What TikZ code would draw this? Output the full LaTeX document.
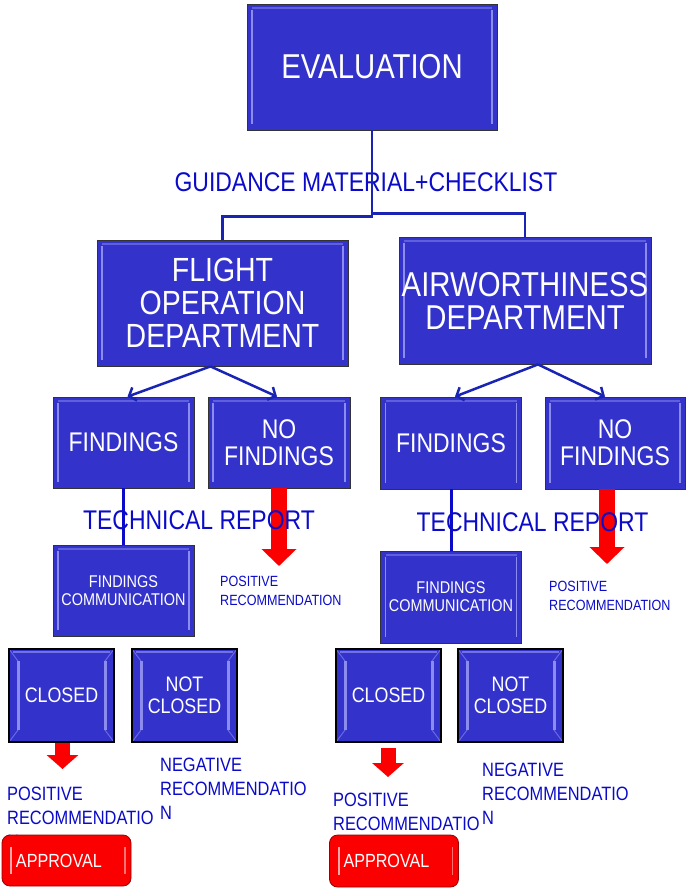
\documentclass[tikz,border=0pt]{standalone}
\usepackage{fontspec}
\setmainfont[FakeStretch=0.85]{Liberation Sans}
\usetikzlibrary{positioning,arrows.meta}
\definecolor{boxblue}{RGB}{51,51,204}
\definecolor{bevelblue}{RGB}{140,140,238}
\definecolor{labelblue}{RGB}{10,10,200}
\definecolor{linkblue}{RGB}{25,35,180}
\definecolor{btnred}{RGB}{250,0,0}
\newcommand{\pxfont}[2]{\fontsize{#1pt}{#2pt}\selectfont}

\begin{document}
\begin{tikzpicture}[x=1pt, y=-1pt]
    % Define styles
    \tikzstyle{unit} = [rectangle, draw=black!80, line width=0.8pt, fill=boxblue, text=white, align=center, inner sep=0pt, path picture={
        \path (path picture bounding box.north west) coordinate (pnw) (path picture bounding box.south west) coordinate (psw)
              (path picture bounding box.north east) coordinate (pne) (path picture bounding box.south east) coordinate (pse);
        \draw [bevelblue, line width=1.8pt] ([xshift=5pt,yshift=-6pt]pnw) -- ([xshift=5pt,yshift=6pt]psw)
              ([xshift=-5pt,yshift=-6pt]pne) -- ([xshift=-5pt,yshift=6pt]pse);
        \draw [bevelblue!50!boxblue, line width=1.2pt] ([xshift=5pt,yshift=-4pt]pnw) -- ([xshift=-5pt,yshift=-4pt]pne);}]
    \tikzstyle{button} = [rectangle, draw=black, line width=1.6pt, fill=boxblue, text=white, align=center, inner sep=0pt, path picture={
        \path (path picture bounding box.north west) coordinate (pnw) (path picture bounding box.south west) coordinate (psw)
              (path picture bounding box.north east) coordinate (pne) (path picture bounding box.south east) coordinate (pse);
        \draw [bevelblue!60!boxblue, line width=1pt] (pnw) -- ([xshift=9pt,yshift=-12pt]pnw) (psw) -- ([xshift=9pt,yshift=12pt]psw)
              (pne) -- ([xshift=-9pt,yshift=-12pt]pne) (pse) -- ([xshift=-9pt,yshift=12pt]pse);
        \draw [bevelblue, line width=3pt] ([xshift=9pt,yshift=-12pt]pnw) -- ([xshift=9pt,yshift=12pt]psw)
              ([xshift=-9pt,yshift=-12pt]pne) -- ([xshift=-9pt,yshift=12pt]pse);
        \draw [bevelblue!70!boxblue, line width=2pt] ([xshift=4pt,yshift=-3pt]pnw) -- ([xshift=-4pt,yshift=-3pt]pne);}]
    \tikzstyle{approve} = [rectangle, rounded corners=8pt, draw=red!60!black, line width=0.8pt, fill=btnred, text=white, inner xsep=14pt, inner ysep=0pt, text width=101pt, align=left, font=\pxfont{19}{19}, path picture={
        \draw [red!35!white, line width=2pt] ([xshift=9pt,yshift=-12pt]path picture bounding box.north west) -- ([xshift=9pt,yshift=12pt]path picture bounding box.south west);
        \draw [red!55!white, line width=1.5pt] ([xshift=-6pt,yshift=-12pt]path picture bounding box.north east) -- ([xshift=-6pt,yshift=12pt]path picture bounding box.south east);}]
    \tikzstyle{caption} = [text=labelblue, inner sep=0pt]
    \tikzstyle{tree} = [linkblue, line width=2.5pt]
    \tikzstyle{branch} = [linkblue, line width=2.5pt, -{Straight Barb[length=6pt,width=14pt]}]
    \tikzstyle{report} = [labelblue, line width=3pt]
    \tikzstyle{bigred} = [btnred, line width=16pt, -{Triangle[width=34pt,length=17pt]}]
    \tikzstyle{smallred} = [btnred, line width=15pt, -{Triangle[width=31pt,length=14pt]}]

    \useasboundingbox (0,0) rectangle (686,892);

    % Evaluation and departments
    \node [unit, minimum width=250pt, minimum height=126pt, font=\pxfont{34.5}{34}] (eval) at (372,67) {EVALUATION};
    \node [unit, minimum width=251pt, minimum height=126pt, font=\pxfont{33.5}{33}] (flight) at (222.5,303) {FLIGHT\\OPERATION\\DEPARTMENT};
    \node [unit, minimum width=252pt, minimum height=127pt, font=\pxfont{34.5}{33}] (air) at (525,300.5) {AIRWORTHINESS\\DEPARTMENT};

    % Findings level
    \node [unit, minimum width=141pt, minimum height=91pt, font=\pxfont{27}{27}] (findL) at (123.5,442.5) {FINDINGS};
    \node [unit, minimum width=142pt, minimum height=91pt, font=\pxfont{27}{27}] (nofindL) at (279,442.5) {NO\\FINDINGS};
    \node [unit, minimum width=141pt, minimum height=92pt, font=\pxfont{27}{27}] (findR) at (451,443) {FINDINGS};
    \node [unit, minimum width=140pt, minimum height=92pt, font=\pxfont{27}{27}] (nofindR) at (615,443) {NO\\FINDINGS};

    % Communication of findings
    \node [unit, minimum width=141pt, minimum height=91pt, font=\pxfont{17}{18}] (commL) at (123.5,590.5) {FINDINGS\\COMMUNICATION};
    \node [unit, minimum width=141pt, minimum height=92pt, font=\pxfont{17}{18}] (commR) at (451,597) {FINDINGS\\COMMUNICATION};

    % Closed / not closed
    \node [button, minimum width=105pt, minimum height=93pt, font=\pxfont{21}{22}] (closedL) at (61.5,695.5) {CLOSED};
    \node [button, minimum width=105pt, minimum height=93pt, font=\pxfont{21}{22}] (notclosedL) at (184.5,695.5) {NOT\\CLOSED};
    \node [button, minimum width=105pt, minimum height=93pt, font=\pxfont{21}{22}] (closedR) at (388.5,695.5) {CLOSED};
    \node [button, minimum width=105pt, minimum height=93pt, font=\pxfont{21}{22}] (notclosedR) at (510.5,695.5) {NOT\\CLOSED};

    % Red arrows
    \coordinate (tipL) at (279,566);
    \coordinate (tipR) at (607,564);
    \coordinate (dropL) at (62.5,769);
    \coordinate (dropR) at (388,777);
    \draw [bigred] (nofindL.south) -- (tipL);
    \draw [bigred] (nofindR.south -| tipR) -- (tipR);
    \draw [smallred] (closedL.south -| dropL) -- (dropL);
    \draw [smallred, shorten <=5pt] (closedR.south -| dropR) -- (dropR);

    % Texts
    \node [caption, font=\pxfont{27}{27}] (guide) at (366,182) {GUIDANCE MATERIAL+CHECKLIST};
    \node [caption, font=\pxfont{27}{27}] (techL) at (199,520) {TECHNICAL REPORT};
    \node [caption, font=\pxfont{27}{27}] (techR) at (532.5,522) {TECHNICAL REPORT};
    \node [caption, anchor=west, align=left, font=\pxfont{14.8}{19}] (posL) at (220,591) {POSITIVE\\RECOMMENDATION};
    \node [caption, anchor=west, align=left, font=\pxfont{14.8}{19}] (posR) at (549,596) {POSITIVE\\RECOMMENDATION};
    \node [caption, anchor=west, align=left, font=\pxfont{19.3}{24}] (negL) at (160,789) {NEGATIVE\\RECOMMENDATIO\\N};
    \node [caption, anchor=west, align=left, font=\pxfont{19.3}{24}] (negR) at (482,794) {NEGATIVE\\RECOMMENDATIO\\N};
    \node [caption, anchor=west, align=left, font=\pxfont{19.3}{24}] (okL) at (7,818) {POSITIVE\\RECOMMENDATIO\\N};
    \node [caption, anchor=west, align=left, font=\pxfont{19.3}{24}] (okR) at (333,824) {POSITIVE\\RECOMMENDATIO\\N};

    % Approval buttons
    \node [approve, minimum height=51pt] (apprL) at (66.5,860.5) {APPROVAL};
    \node [approve, minimum height=52pt] (apprR) at (394,861) {APPROVAL};

    % Tree lines
    \draw [tree] (eval.south) -- ++(0,86) -| (flight.north);
    \draw [tree] (eval.south) -- ++(0,83) -| (air.north);
    \draw [branch] ([xshift=-12pt]flight.south) -- ([xshift=4pt]findL.north);
    \draw [branch] ([xshift=-12pt]flight.south) -- ([xshift=-2pt]nofindL.north);
    \draw [branch] ([xshift=13pt]air.south) -- ([xshift=4pt]findR.north);
    \draw [branch] ([xshift=13pt]air.south) -- ([xshift=-10pt]nofindR.north);
    \draw [report] (findL.south) -- (commL.north);
    \draw [report] (findR.south) -- (commR.north);
\end{tikzpicture}
\end{document}
